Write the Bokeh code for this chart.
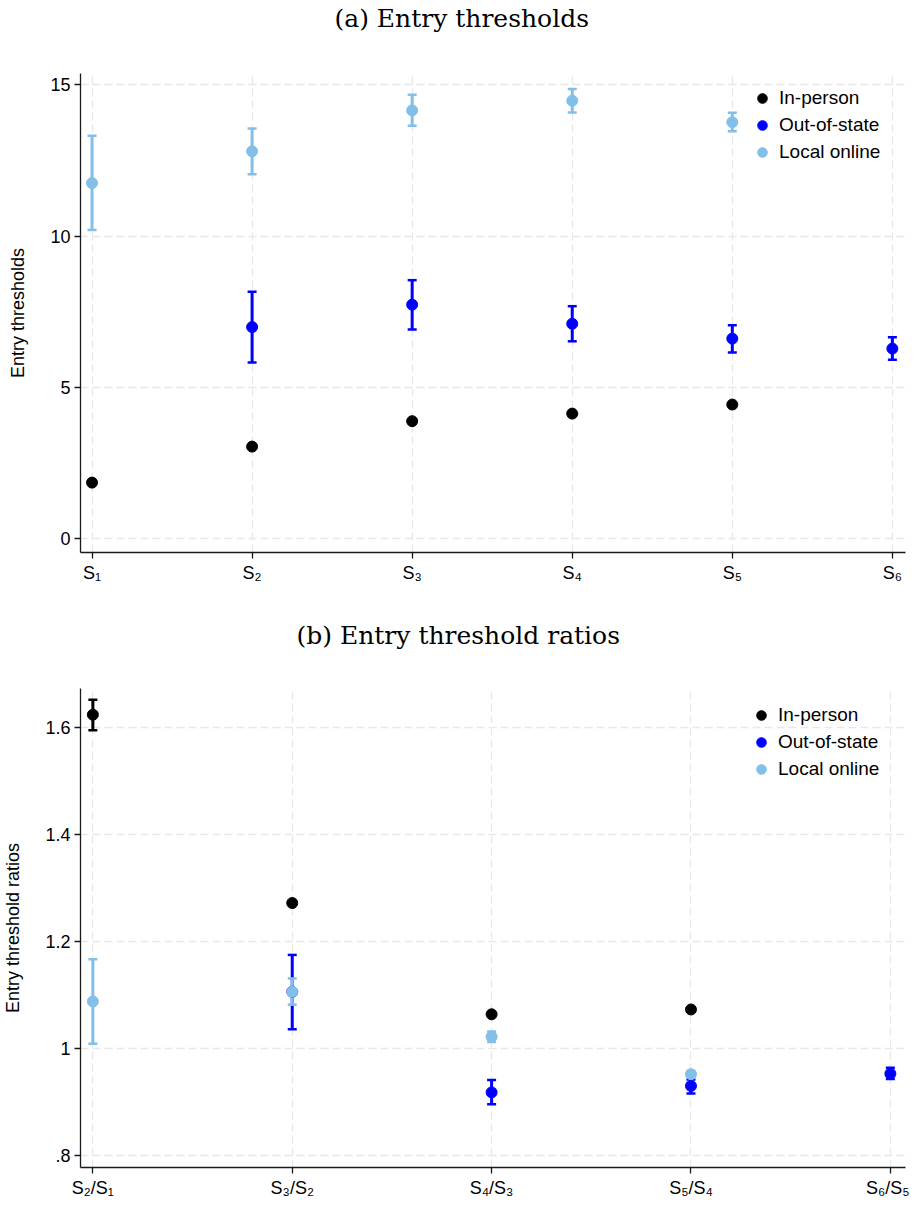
from bokeh.plotting import figure
from bokeh.models import (ColumnDataSource, Whisker, TeeHead, FixedTicker, Range1d, Title)
from bokeh.layouts import column
from bokeh.embed import file_html
from bokeh.resources import INLINE

# ---------------- data: (a) Entry thresholds ----------------
top_positions = [1, 2, 3, 4, 5, 6]
top_labels = ["S\u2081", "S\u2082", "S\u2083", "S\u2084", "S\u2085", "S\u2086"]

ip_x = [1, 2, 3, 4, 5]
ip_y = [1.86, 3.05, 3.89, 4.14, 4.44]

oos_x = [2, 3, 4, 5, 6]
oos_y = [7.00, 7.74, 7.11, 6.62, 6.29]
oos_lo = [5.83, 6.92, 6.53, 6.16, 5.92]
oos_hi = [8.17, 8.55, 7.69, 7.06, 6.66]

lo_x = [1, 2, 3, 4, 5]
lo_y = [11.76, 12.81, 14.16, 14.48, 13.77]
lo_lo = [10.21, 12.05, 13.65, 14.09, 13.47]
lo_hi = [13.32, 13.56, 14.68, 14.87, 14.08]

top_yticks = [0, 5, 10, 15]

# ---------------- data: (b) Entry threshold ratios ----------------
bot_positions = [1, 2, 3, 4, 5]
bot_labels = ["S\u2082/S\u2081", "S\u2083/S\u2082", "S\u2084/S\u2083", "S\u2085/S\u2084", "S\u2086/S\u2085"]

ipr_x = [1, 2, 3, 4]
ipr_y = [1.624, 1.272, 1.064, 1.073]
ipr_lo = [1.595, 1.269, 1.062, 1.071]
ipr_hi = [1.652, 1.275, 1.066, 1.075]

oosr_x = [2, 3, 4, 5]
oosr_y = [1.106, 0.918, 0.930, 0.953]
oosr_lo = [1.036, 0.896, 0.916, 0.943]
oosr_hi = [1.175, 0.941, 0.942, 0.964]

lor_x = [1, 2, 3, 4]
lor_y = [1.088, 1.106, 1.022, 0.952]
lor_lo = [1.009, 1.082, 1.012, 0.946]
lor_hi = [1.167, 1.131, 1.032, 0.958]

bot_yticks = [0.8, 1.0, 1.2, 1.4, 1.6]
bot_ytick_labels = [".8", "1", "1.2", "1.4", "1.6"]

series_names = ["In-person", "Out-of-state", "Local online"]
series_colors = ["#000000", "#0000ff", "#82bfe9"]

SANS = "Liberation Sans"


def style(p, xticks, xlabels, yticks, ylabels, ylabel):
    p.outline_line_color = None
    p.background_fill_color = "white"
    p.border_fill_color = "white"
    for ax in (p.xaxis[0], p.yaxis[0]):
        ax.axis_line_color = "#1a1a1a"
        ax.axis_line_width = 1.3
        ax.major_tick_line_color = "#1a1a1a"
        ax.major_tick_line_width = 1.3
        ax.major_tick_out = 6
        ax.major_tick_in = 0
        ax.minor_tick_line_color = None
        ax.major_label_text_font = SANS
        ax.major_label_text_font_size = "18px"
        ax.major_label_text_color = "#000000"
    p.xaxis[0].ticker = FixedTicker(ticks=xticks)
    p.xaxis[0].major_label_overrides = {t: l for t, l in zip(xticks, xlabels)}
    p.xaxis[0].major_label_standoff = 4
    p.yaxis[0].ticker = FixedTicker(ticks=yticks)
    p.yaxis[0].major_label_overrides = {t: l for t, l in zip(yticks, ylabels)}
    p.yaxis[0].major_label_standoff = 4
    p.yaxis[0].axis_label = ylabel
    p.yaxis[0].axis_label_text_font = SANS
    p.yaxis[0].axis_label_text_font_size = "18px"
    p.yaxis[0].axis_label_text_font_style = "normal"
    p.yaxis[0].axis_label_text_color = "#000000"
    p.yaxis[0].axis_label_standoff = 19
    for g in (p.xgrid[0], p.ygrid[0]):
        g.grid_line_color = "#e8e8e8"
        g.grid_line_dash = "8 4"
        g.grid_line_width = 1.3
    p.xgrid[0].ticker = FixedTicker(ticks=xticks)
    p.ygrid[0].ticker = FixedTicker(ticks=yticks)


def add_series(p, x, y, lo, hi, color, name):
    if lo is not None:
        src = ColumnDataSource(dict(x=x, lo=lo, hi=hi))
        w = Whisker(source=src, base="x", lower="lo", upper="hi", dimension="height",
                    line_color=color, line_width=3,
                    upper_head=TeeHead(size=9, line_color=color, line_width=2.5),
                    lower_head=TeeHead(size=9, line_color=color, line_width=2.5))
        p.add_layout(w)
    p.scatter(x=x, y=y, size=11, fill_color=color, line_color=color, legend_label=name)


def style_legend(p, vx, vy):
    lg = p.legend[0]
    lg.location = (vx, vy)
    lg.background_fill_alpha = 0
    lg.border_line_color = None
    lg.label_text_font = SANS
    lg.label_text_font_size = "19px"
    lg.label_text_color = "#000000"
    lg.glyph_width = 24
    lg.glyph_height = 24
    lg.label_height = 24
    lg.label_standoff = 5
    lg.padding = 6
    lg.spacing = 3
    lg.margin = 0


def add_title(p, text, offset, gap):
    # spacer panel between frame and title, then the title itself (outermost)
    p.add_layout(Title(text=" ", text_font_size="1px", standoff=gap, text_color="#ffffff"), "above")
    p.add_layout(Title(text=text, align="left", offset=offset,
                       text_font="DejaVu Serif", text_font_size="25px",
                       text_font_style="normal", text_color="#000000", standoff=0), "above")


# ---------------- figure (a) ----------------
p1 = figure(width=909, height=616, output_backend="svg", toolbar_location=None,
            x_range=Range1d(0.928, 6.082), y_range=Range1d(-0.45, 15.38),
            min_border_left=71, min_border_right=4, min_border_top=73, min_border_bottom=64)
style(p1, top_positions, top_labels, top_yticks, [str(t) for t in top_yticks], "Entry thresholds")
add_series(p1, ip_x, ip_y, None, None, series_colors[0], series_names[0])
add_series(p1, oos_x, oos_y, oos_lo, oos_hi, series_colors[1], series_names[1])
add_series(p1, lo_x, lo_y, lo_lo, lo_hi, series_colors[2], series_names[2])
style_legend(p1, 670, 388)
add_title(p1, "(a) Entry thresholds", 254, 38)

# ---------------- figure (b) ----------------
p2 = figure(width=909, height=589, output_backend="svg", toolbar_location=None,
            x_range=Range1d(0.938, 5.076), y_range=Range1d(0.7776, 1.673),
            min_border_left=76, min_border_right=3, min_border_top=72, min_border_bottom=38)
style(p2, bot_positions, bot_labels, bot_yticks, bot_ytick_labels, "Entry threshold ratios")
add_series(p2, ipr_x, ipr_y, ipr_lo, ipr_hi, series_colors[0], series_names[0])
add_series(p2, oosr_x, oosr_y, oosr_lo, oosr_hi, series_colors[1], series_names[1])
add_series(p2, lor_x, lor_y, lor_lo, lor_hi, series_colors[2], series_names[2])
style_legend(p2, 669, 386)
add_title(p2, "(b) Entry threshold ratios", 216, 36)

layout = column(p1, p2)
open("out.html", "w").write(file_html(layout, INLINE))
